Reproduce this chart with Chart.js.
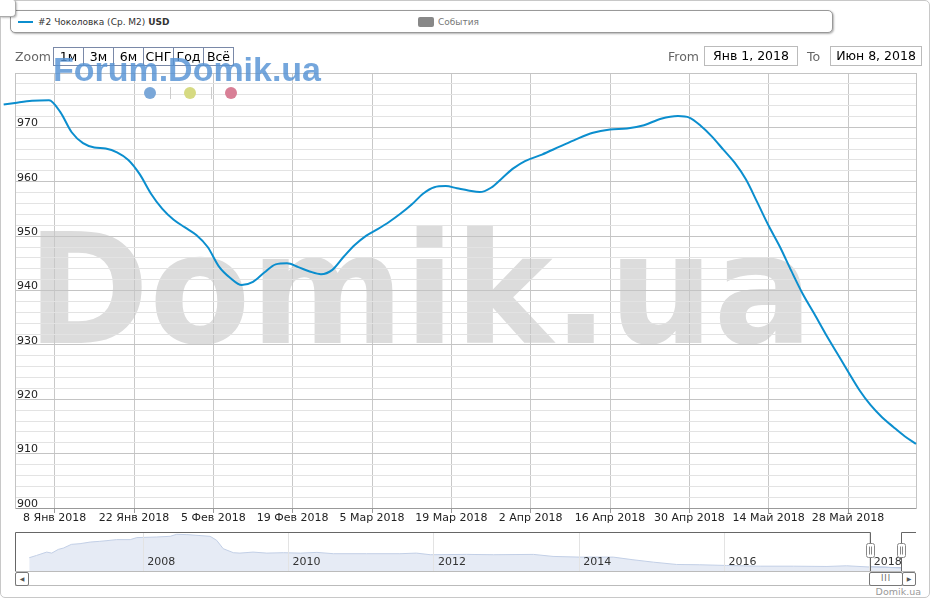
<!DOCTYPE html>
<html>
<head>
<meta charset="utf-8">
<script src="https://cdn.jsdelivr.net/npm/chart.js@4.4.1/dist/chart.umd.min.js"></script>
<style>
  body { margin: 0; background: #fff; font-family: "DejaVu Sans", sans-serif; }
  #wrap { position: relative; width: 931px; height: 600px; overflow: hidden; }
  .a { position: absolute; }
  #frame { left: 0; top: 0; width: 928px; height: 596px; border: 1px solid #c8c8c8; border-radius: 5px; }
  #corner { left: 0; top: 0; width: 15px; height: 16px; background: #fff; border: 1px solid #aaa; border-left: none; border-top: none; border-radius: 0 3px 4px 0; box-shadow: 1px 1px 2px rgba(0,0,0,.25); z-index: 4; }
  #legend { left: 10px; top: 10px; width: 821px; height: 21px; border: 1px solid #999; border-radius: 5px; box-shadow: 1px 1px 2px rgba(0,0,0,.3); background: #fff; z-index: 3; }
  .lg { font-size: 9px; color: #333; top: 17px; white-space: nowrap; z-index: 3; }
  .btn { top: 47px; width: 29px; height: 17px; border: 1px solid #7a89a8; font-size: 12.5px; line-height: 17px; text-align: center; color: #000; background: #fff; z-index: 2; }
  .lbl { top: 49px; font-size: 12.5px; color: #666; z-index: 2; }
  .inp { top: 46px; height: 18px; border: 1px solid #bbb; font-size: 12.5px; line-height: 18px; text-align: center; color: #000; background: #fff; z-index: 2; }
  #wm { left: 27px; top: 213px; font: bold 154px/1 "DejaVu Sans", sans-serif; color: #dcdcdc; white-space: nowrap; transform-origin: 0 0; z-index: 0; }
  #forum { left: 53px; top: 52px; font: bold 34px/1 "Liberation Sans", sans-serif; color: rgba(86,146,212,.82); white-space: nowrap; transform-origin: 0 0; z-index: 5; }
  .dot { top: 87px; width: 12px; height: 12px; border-radius: 6px; z-index: 5; }
  .sep { top: 87px; width: 1px; height: 12px; background: #ccc; z-index: 5; }
  canvas { position: absolute; left: 0; }
  .sb { top: 572px; height: 12px; border: 1px solid #777; border-radius: 2px; background: #fff; z-index: 2; font-family: "DejaVu Sans", sans-serif; }
</style>
</head>
<body>
<div id="wrap">
  <div class="a" id="frame"></div>
  <div class="a" id="wm">Domik.ua</div>

  <canvas id="chart" width="931" height="470" style="top:60px;z-index:1"></canvas>
  <canvas id="nav" width="931" height="44" style="top:528px;z-index:1"></canvas>

  <div class="a" id="legend"></div>
  <div class="a" id="corner"></div>
  <div class="a" style="left:18px;top:21px;width:15px;height:2px;background:#0b8ece;z-index:3"></div>
  <div class="a lg" style="left:38px">#2 Чоколовка (Ср. М2) <b>USD</b></div>
  <div class="a" style="left:418px;top:17px;width:16px;height:10px;border-radius:2px;background:#888;z-index:3"></div>
  <div class="a lg" style="left:438px;color:#777">События</div>

  <div class="a lbl" style="left:15px">Zoom</div>
  <div class="a btn" style="left:53px">1м</div>
  <div class="a btn" style="left:83px">3м</div>
  <div class="a btn" style="left:113px">6м</div>
  <div class="a btn" style="left:143px">СНГ</div>
  <div class="a btn" style="left:173px">Год</div>
  <div class="a btn" style="left:203px">Всё</div>

  <div class="a lbl" style="left:668px">From</div>
  <div class="a inp" style="left:704px;width:92px">Янв 1, 2018</div>
  <div class="a lbl" style="left:807px">To</div>
  <div class="a inp" style="left:830px;width:90px">Июн 8, 2018</div>

  <div class="a" id="forum">Forum.Domik.ua</div>
  <div class="a dot" style="left:144px;background:#7aa7d8"></div>
  <div class="a sep" style="left:170px"></div>
  <div class="a dot" style="left:184px;background:#d6da82"></div>
  <div class="a sep" style="left:211px"></div>
  <div class="a dot" style="left:225px;background:#d87f96"></div>

  <div class="a" style="left:15px;top:571px;width:900px;height:13px;border-top:1px solid #bbb;border-bottom:1px solid #bbb;z-index:2"></div>
  <div class="a sb" style="left:15px;width:12px;font-size:6px;line-height:12px;text-align:center;color:#555">◀</div>
  <div class="a sb" style="left:869px;width:32px;font-size:8px;line-height:12px;text-align:center;color:#666;letter-spacing:1px">III</div>
  <div class="a sb" style="left:902px;width:12px;font-size:6px;line-height:12px;text-align:center;color:#555">▶</div>
  <div class="a" style="left:860px;top:586px;width:61px;text-align:right;font-size:9.5px;color:#999">Domik.ua</div>
</div>

<script>
// дни от 1 янв 2018
const days = [-2, 0, 3, 6, 8, 10, 12, 14, 16, 18, 20, 22, 24, 26, 28, 30, 32, 34, 36, 38,
  40, 42, 44, 46, 48, 50, 52, 54, 56, 58, 60, 62, 64, 66, 68, 70, 72, 74, 76, 78,
  80, 82, 84, 86, 88, 90, 93, 96, 99, 102, 105, 108, 111, 114, 117, 119, 121, 123, 125, 127,
  129, 131, 133, 135, 137, 139, 141, 143, 145, 147, 149, 151, 153, 155, 157, 159];
const prices = [974.2, 974.5, 974.9, 975.0, 972.8, 969.1, 967.1, 966.3, 966.1, 965.4, 964.0, 961.4, 957.8, 955.0, 953.0, 951.6, 950.2, 948.0, 944.4, 942.3,
  941.0, 941.6, 943.3, 944.8, 945.0, 944.3, 943.5, 943.0, 943.8, 946.2, 948.4, 950.1, 951.3, 952.6, 954.1, 955.8, 957.8, 959.0, 959.2, 958.8,
  958.4, 958.1, 958.9, 960.7, 962.5, 963.8, 965.0, 966.4, 967.8, 969.0, 969.6, 969.8, 970.4, 971.6, 972.1, 971.8, 970.3, 968.3, 965.9, 963.5,
  960.4, 956.2, 951.9, 948.0, 943.6, 939.4, 935.8, 932.1, 928.6, 925.1, 921.7, 918.9, 916.7, 914.9, 913.2, 911.8];

const xTickDays = [7, 21, 35, 49, 63, 77, 91, 105, 119, 133, 147];
const xTickLabels = ['8 Янв 2018', '22 Янв 2018', '5 Фев 2018', '19 Фев 2018', '5 Мар 2018', '19 Мар 2018',
  '2 Апр 2018', '16 Апр 2018', '30 Апр 2018', '14 Май 2018', '28 Май 2018'];
const yMin = 900, yMax = 980, yMinorStep = 2, yMajorStep = 10;

// навигатор: вся история
const navYears = [2006.43, 2006.53, 2006.67, 2006.74, 2006.83, 2006.90, 2007.01, 2007.13, 2007.27, 2007.40,
  2007.50, 2007.63, 2007.82, 2007.91, 2008.18, 2008.37, 2008.46, 2008.60, 2008.92, 2009.01,
  2009.10, 2009.24, 2009.33, 2009.51, 2009.70, 2009.93, 2010.16, 2010.39, 2010.62, 2011.07,
  2011.53, 2011.76, 2011.95, 2012.45, 2012.82, 2013.37, 2013.64, 2014.01, 2014.47, 2014.74,
  2015.02, 2015.34, 2015.66, 2016.03, 2016.49, 2016.95, 2017.41, 2017.68, 2018.00, 2018.22, 2018.44];
const navPrices = [1521, 1655, 1852, 1793, 2012, 2089, 2308, 2349, 2444, 2486,
  2527, 2586, 2586, 2705, 2740, 2782, 2900, 2882, 2782, 2545,
  2053, 1817, 1793, 1852, 1793, 1817, 1793, 1834, 1757, 1757,
  1757, 1793, 1698, 1716, 1698, 1716, 1598, 1556, 1556, 1402,
  1260, 1124, 1106, 1065, 1023, 1023, 1006, 1047, 974, 958, 912];
const navTickYears = [2008, 2010, 2012, 2014, 2016, 2018];
const selFrom = 2018.0, selTo = 2018 + 159 / 365;

const blue = '#0b8ece';
const font = { family: 'DejaVu Sans', size: 11 };

// подгоняем ширину водяных знаков
function fitWidth(id, w) {
  const el = document.getElementById(id);
  el.style.transform = 'scaleX(' + (w / el.getBoundingClientRect().width) + ')';
}
fitWidth('wm', 786);
fitWidth('forum', 268);

const yTicks = [];
for (let v = yMin; v <= yMax; v += yMinorStep) yTicks.push({ value: v });

new Chart(document.getElementById('chart'), {
  type: 'line',
  data: {
    datasets: [{
      label: '#2 Чоколовка (Ср. М2) USD',
      data: days.map((d, i) => ({ x: d, y: prices[i] })),
      borderColor: blue,
      borderWidth: 2,
      pointRadius: 0,
      cubicInterpolationMode: 'monotone',
      clip: false
    }]
  },
  options: {
    responsive: false,
    animation: false,
    layout: { padding: { left: 15, right: 15, top: 13, bottom: 0 } },
    plugins: { legend: { display: false }, tooltip: { enabled: false } },
    scales: {
      x: {
        type: 'linear', min: 0, max: 159,
        afterBuildTicks: s => { s.ticks = xTickDays.map(v => ({ value: v })); },
        afterFit: s => { s.height = 22; },
        ticks: {
          callback: v => xTickLabels[xTickDays.indexOf(v)],
          autoSkip: false, maxRotation: 0, padding: -1, color: '#222', font
        },
        grid: { color: '#c8c8c8', tickLength: 5, tickColor: '#999' },
        border: { color: '#999' }
      },
      y: {
        min: yMin, max: yMax,
        afterBuildTicks: s => { s.ticks = yTicks.slice(); },
        afterFit: s => { s.width = 0; },
        ticks: {
          autoSkip: false, mirror: true, padding: 2, labelOffset: -4,
          callback: v => (v % yMajorStep === 0 && v !== yMax ? v : ''),
          color: '#222', font
        },
        grid: {
          drawTicks: false,
          color: c => (c.tick && c.tick.value % yMajorStep === 0 ? '#c4c4c4' : '#e3e3e3')
        },
        border: { color: '#c4c4c4' }
      },
      y2: {
        position: 'right', min: yMin, max: yMax,
        afterFit: s => { s.width = 0; },
        ticks: { display: false },
        grid: { display: false },
        border: { color: '#c4c4c4' }
      }
    }
  }
});

const navFrame = {
  id: 'navFrame',
  afterDraw(chart) {
    const { ctx, chartArea: a, scales: { x } } = chart;
    const x1 = Math.round(x.getPixelForValue(selFrom)) + 0.5;
    const x2 = Math.round(x.getPixelForValue(selTo)) + 0.5;
    const top = Math.round(a.top) + 0.5;
    ctx.save();
    ctx.strokeStyle = '#666';
    ctx.lineWidth = 1;
    ctx.beginPath();
    ctx.moveTo(a.left + 0.5, a.bottom);
    ctx.lineTo(a.left + 0.5, top);
    ctx.lineTo(x1, top);
    ctx.lineTo(x1, a.bottom);
    ctx.moveTo(x2, a.bottom);
    ctx.lineTo(x2, top);
    ctx.lineTo(a.right, top);
    ctx.stroke();
    [x1, x2].forEach(px => {
      ctx.beginPath();
      ctx.roundRect(px - 4, top + 11, 8, 14, 2);
      ctx.fillStyle = '#fff';
      ctx.fill();
      ctx.strokeStyle = '#888';
      ctx.stroke();
      ctx.beginPath();
      ctx.moveTo(px - 1, top + 14); ctx.lineTo(px - 1, top + 22);
      ctx.moveTo(px + 1, top + 14); ctx.lineTo(px + 1, top + 22);
      ctx.stroke();
    });
    ctx.restore();
  }
};

new Chart(document.getElementById('nav'), {
  type: 'line',
  data: {
    datasets: [{
      data: navYears.map((y, i) => ({ x: y, y: navPrices[i] })),
      fill: 'start',
      backgroundColor: '#e6ebf5',
      borderColor: '#c2cfe6',
      borderWidth: 1,
      pointRadius: 0
    }, {
      data: navYears.map((y, i) => ({ x: y, y: navPrices[i] })).filter(p => p.x >= selFrom),
      fill: 'start',
      backgroundColor: '#8ea7d0',
      borderColor: '#7f99c6',
      borderWidth: 1,
      pointRadius: 0
    }]
  },
  options: {
    responsive: false,
    animation: false,
    layout: { padding: { left: 15, right: 15, top: 4, bottom: 0 } },
    plugins: { legend: { display: false }, tooltip: { enabled: false } },
    scales: {
      x: {
        type: 'linear', min: 2006.234, max: 2018.636,
        afterBuildTicks: s => { s.ticks = navTickYears.map(v => ({ value: v })); },
        afterFit: s => { s.height = 0; },
        ticks: { z: 1, align: 'start', mirror: true, padding: 3, labelOffset: 4, autoSkip: false, maxRotation: 0, callback: v => String(v), color: '#333', font },
        grid: { drawTicks: false, color: '#e3e3e3', z: 1 },
        border: { display: false }
      },
      y: { display: false, min: 680, max: 3035 }
    }
  },
  plugins: [navFrame]
});
</script>
</body>
</html>
